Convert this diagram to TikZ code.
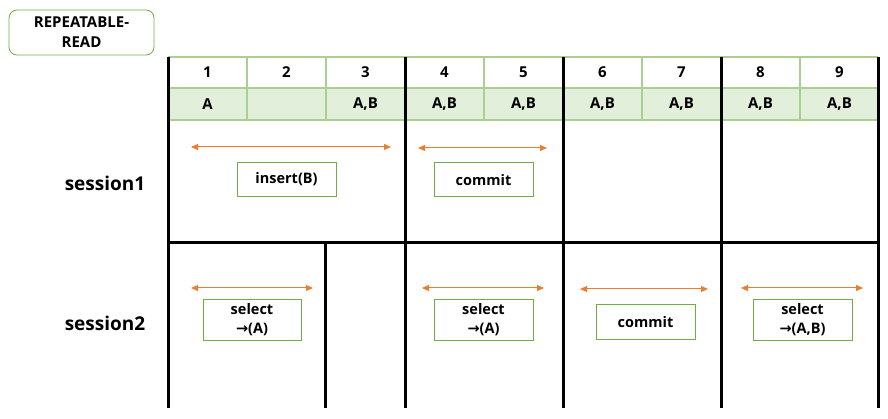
\documentclass[tikz,border=0pt]{standalone}
\usepackage{fontspec}
\setmainfont{Open Sans}
\newfontfamily\arrfont{DejaVu Sans}
\usetikzlibrary{arrows.meta}
\definecolor{gline}{HTML}{A9D08E}
\definecolor{gfill}{HTML}{E2EFDA}
\definecolor{gbox}{HTML}{70AD47}
\definecolor{orng}{HTML}{ED7D31}
\newcommand{\ra}{{\arrfont\bfseries →}}
\begin{document}
\begin{tikzpicture}[x=1pt,y=-1pt,
  txt/.style={font=\bfseries\fontsize{15}{20}\selectfont, inner sep=0pt, align=center},
  lbl/.style={font=\bfseries\fontsize{19}{22}\selectfont, inner sep=0pt},
  opbox/.style={draw=gbox, line width=1pt, minimum width=99pt, minimum height=34pt, inner sep=0pt, align=center, font=\bfseries\fontsize{14.5}{19}\selectfont},
  thick line/.style={line width=3pt, black},
  grid line/.style={line width=1.2pt, gline},
  span/.style={orng, line width=1pt, {Triangle[length=7pt,width=6pt]}-{Triangle[length=7pt,width=6pt]}}]
\useasboundingbox (0,0) rectangle (888,419);

% title box
\node[draw=gbox, line width=0.8pt, rounded corners=8pt, minimum width=145pt, minimum height=45pt, txt] (title) at (81.5,32.5) {REPEATABLE-\\READ};

% green data row
\fill[gfill] (168,88) rectangle (878,120);
% grid lines
\draw[grid line] (168,57) -- (878,57);
\draw[grid line, line width=2pt] (168,88) -- (878,88);
\draw[grid line] (168,120) -- (878,120);
\foreach \x in {247,326,484,642,800} \draw[grid line] (\x,57) -- (\x,120);

% header and data cells
\foreach \i/\v in {1/A,2/,3/{A,B},4/{A,B},5/{A,B},6/{A,B},7/{A,B},8/{A,B},9/{A,B}} {
  \node[txt] (h\i) at (168+79*\i-39.5,72.5) {\i};
  \node[txt] (d\i) at (168+79*\i-39.5,104) {\v};
}

% thick lines
\foreach \x in {168,405,563,721,878} \draw[thick line] (\x,57) -- (\x,408);
\draw[thick line] (166.5,243) -- (879.5,243);
\draw[thick line] (325,243) -- (325,408);

% row labels
\node[lbl] (s1) at (105,183) {session1};
\node[lbl] (s2) at (105,323) {session2};

% session1
\coordinate (a1l) at (191,147); \coordinate (a1r) at (391,147);
\draw[span] (a1l) -- (a1r);
\node[opbox] (b1) at (286.5,179.5) {insert(B)};
\coordinate (a2l) at (418,148); \coordinate (a2r) at (547,148);
\draw[span] (a2l) -- (a2r);
\node[opbox] (b2) at (483.5,180) {commit};

% session2
\coordinate (a3l) at (191,288); \coordinate (a3r) at (313,288);
\draw[span] (a3l) -- (a3r);
\node[opbox, minimum width=98pt, minimum height=40pt] (b3) at (252,320) {select\\\ra(A)};
\coordinate (a4l) at (422,288); \coordinate (a4r) at (544,288);
\draw[span] (a4l) -- (a4r);
\node[opbox, minimum height=40pt] (b4) at (483.5,320) {select\\\ra(A)};
\coordinate (a5l) at (580,289); \coordinate (a5r) at (708,289);
\draw[span] (a5l) -- (a5r);
\node[opbox] (b5) at (645.5,322) {commit};
\coordinate (a6l) at (741,288); \coordinate (a6r) at (863,288);
\draw[span] (a6l) -- (a6r);
\node[opbox, minimum height=40pt] (b6) at (802.5,320) {select\\\ra(A,B)};
\end{tikzpicture}
\end{document}
